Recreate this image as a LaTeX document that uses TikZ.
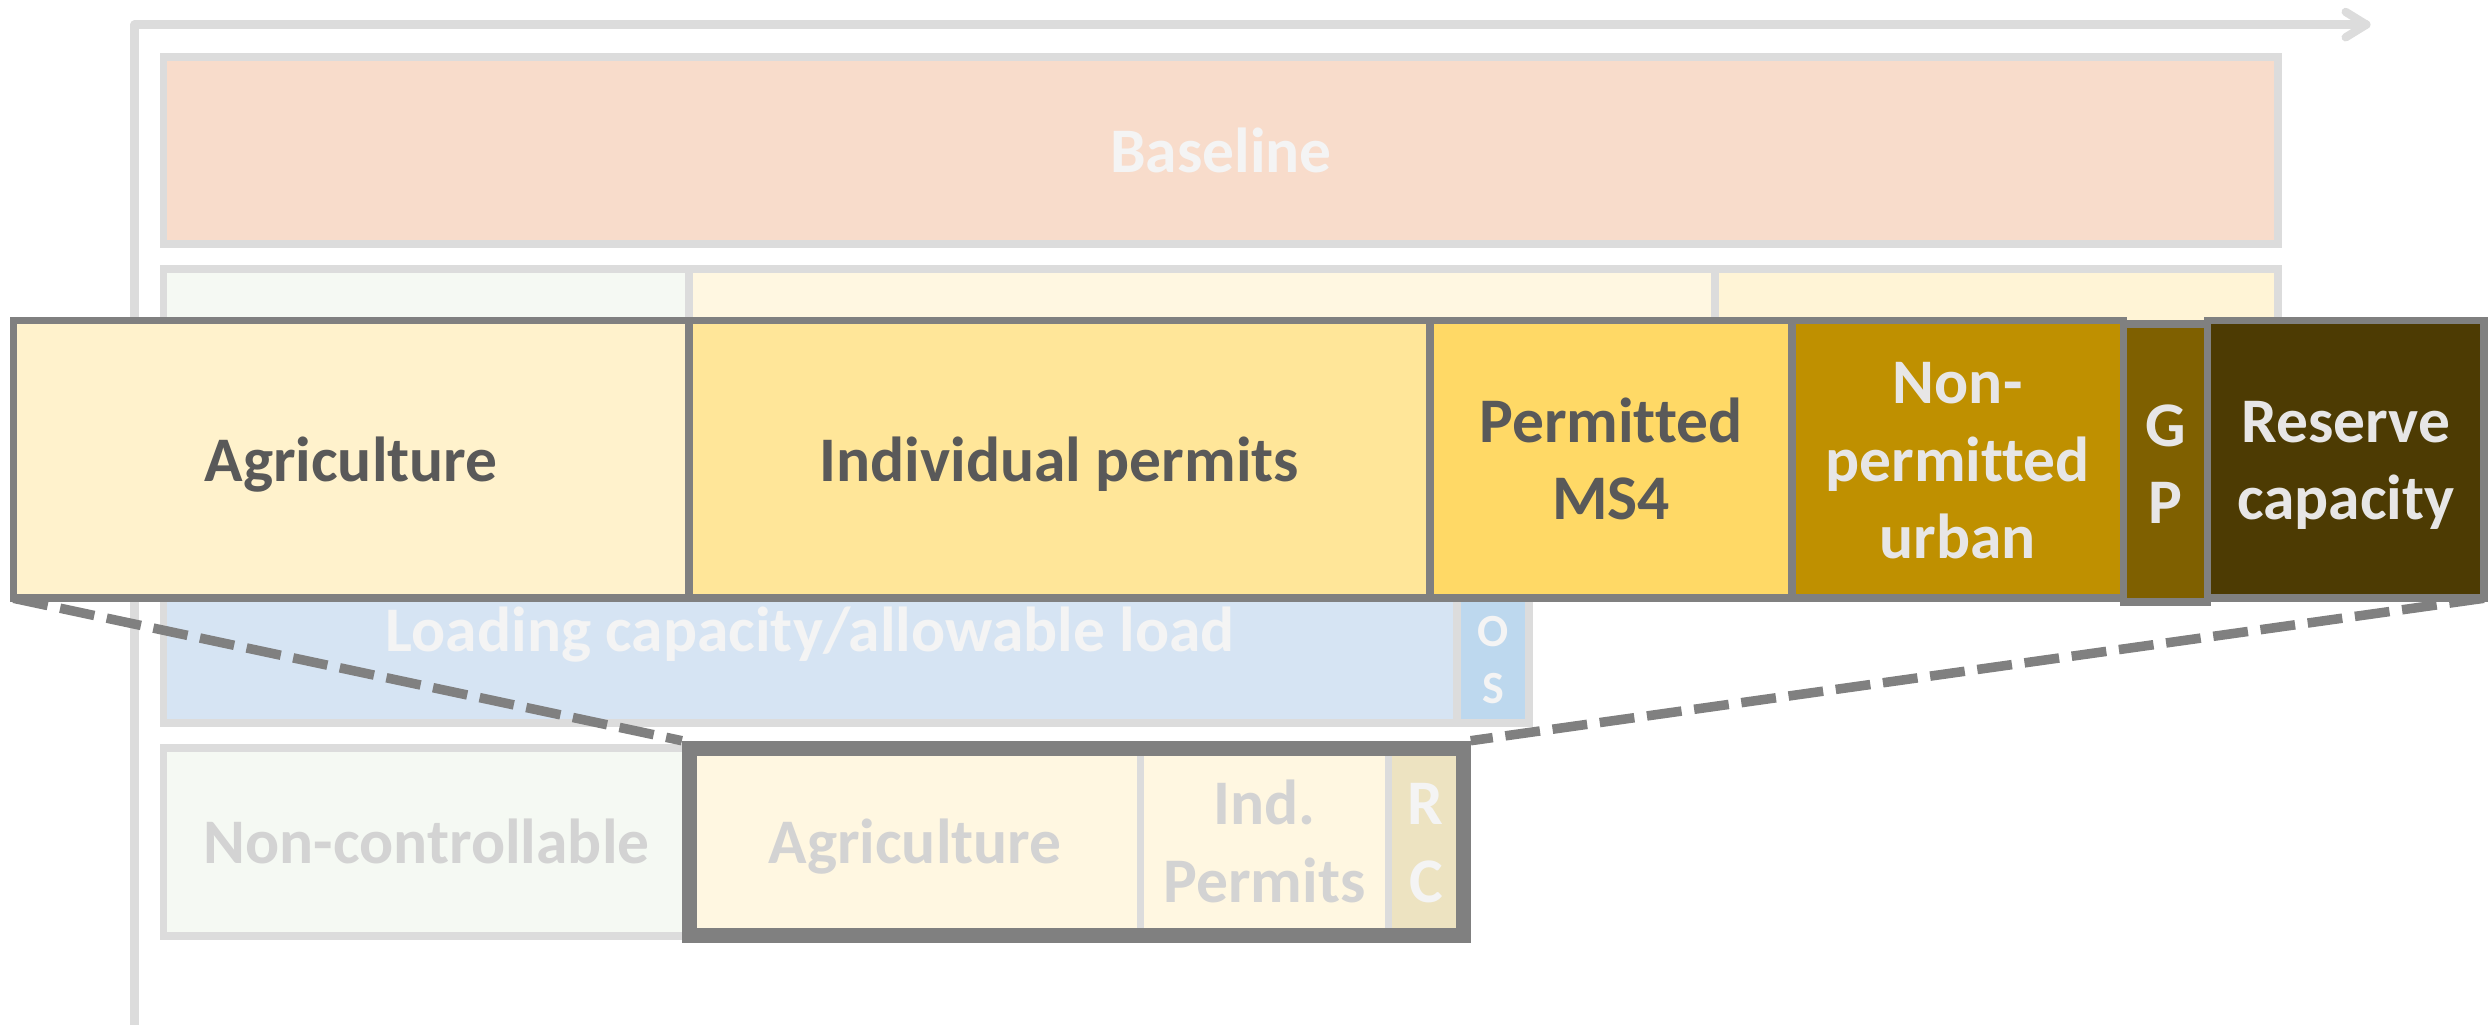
\documentclass[tikz,border=0pt]{standalone}
\usepackage{fontspec}
\setmainfont{Carlito}[Ligatures=NoCommon]
\usetikzlibrary{calc}
\definecolor{lgray}{HTML}{DCDCDC}
\definecolor{dgray}{HTML}{808080}
\definecolor{txtdark}{HTML}{595959}
\definecolor{txtlight}{HTML}{E7E6E6}
\definecolor{txtwhite}{HTML}{F4F4F4}
\definecolor{txtfaint}{HTML}{D3D3D3}
\definecolor{peach}{HTML}{F8DCCB}
\definecolor{mint}{HTML}{F5F9F3}
\definecolor{cream}{HTML}{FFF7E1}
\definecolor{creamb}{HTML}{FFF4D6}
\definecolor{lblue}{HTML}{D6E4F3}
\definecolor{osblue}{HTML}{BDD8EE}
\definecolor{tanfill}{HTML}{EDE3C1}
\definecolor{ya}{HTML}{FFF2CC}
\definecolor{yb}{HTML}{FFE699}
\definecolor{yc}{HTML}{FFD966}
\definecolor{yd}{HTML}{BF9000}
\definecolor{ye}{HTML}{7F6000}
\definecolor{yf}{HTML}{4D3B03}
\newcommand\pl{\rule[-0.269em]{0pt}{1.221em}}
\newcommand\segbox[7]{\node[#1,minimum width={(#5)-(#3)},minimum height={(#6)-(#4)}] (#2) at ({((#3)+(#5))/2},{((#4)+(#6))/2}) {#7};}
\tikzset{
  seg/.style={rectangle, inner sep=0pt, outer sep=0pt, align=center, line width=4.8pt},
  lbox/.style={seg, draw=lgray},
  dbox/.style={seg, draw=dgray},
  axisline/.style={draw=lgray, line width=5.2pt, line cap=round, line join=round},
  zoomline/.style={draw=dgray, line width=6pt, dash pattern=on 22pt off 8pt},
  thickbox/.style={rectangle, inner sep=0pt, draw=dgray, line width=9.5pt}
}
\begin{document}
\begin{tikzpicture}[x=1pt, y=-1pt, font=\bfseries\fontsize{40}{48.84}\selectfont]
\useasboundingbox (0,0) rectangle (1568,645);
% axes
\coordinate (origin) at (84.7,15.5);
\coordinate (xend) at (1489.5,15.5);
\coordinate (ybot) at (84.7,660);
\draw[axisline] (ybot) -- (origin) -- (xend);
\draw[axisline] ($(xend)+(-13,-8)$) -- (xend) -- ($(xend)+(-13,8)$);
% baseline
\segbox{lbox, fill=peach, text=txtwhite}{baseline}{103}{36}{1434}{153.4}{\pl Baseline}
% row 2 (mostly hidden)
\segbox{lbox, fill=mint}{rtwoa}{103}{169.3}{433.5}{300}{}
\segbox{lbox, fill=cream}{rtwob}{433.5}{169.3}{1079.6}{300}{}
\segbox{lbox, fill=creamb}{rtwoc}{1079.6}{169.3}{1434}{300}{}
% loading capacity
\segbox{lbox, fill=lblue, text=txtwhite}{loadcap}{103}{337.6}{917}{455}{\pl Loading capacity/allowable load}
\segbox{lbox, fill=osblue}{osbox}{917}{337.6}{962.6}{455}{}
\node[text=txtwhite, align=center, font=\bfseries\fontsize{29}{35.4}\selectfont, inner sep=0pt] (ostext) at (939.8,415) {\pl O\\\pl S};
% bottom row
\segbox{lbox, fill=mint, text=txtfaint}{noncont}{103}{471}{434}{589}{\pl Non-controllable}
\segbox{lbox, fill=cream, text=txtfaint}{sagri}{434}{471}{718}{589}{\pl Agriculture}
\segbox{lbox, fill=cream, text=txtfaint}{sind}{718}{471}{874}{589}{\pl Ind.\\\pl Permits}
\segbox{lbox, fill=tanfill, text=txtwhite}{src}{874}{471}{921}{589}{\pl R\\\pl C}
\segbox{thickbox}{zoombox}{434}{471}{921}{589}{}
% big bar
\segbox{dbox, fill=ya, text=txtdark}{bagri}{8.5}{201.7}{433.5}{376.6}{\pl Agriculture}
\segbox{dbox, fill=yb, text=txtdark}{bind}{433.5}{201.7}{900}{376.6}{\pl Individual permits}
\segbox{dbox, fill=yc, text=txtdark}{bms}{900}{201.7}{1128}{376.6}{\pl Permitted\\\pl MS4}
\segbox{dbox, fill=yd, text=txtlight}{bnon}{1128}{201.7}{1336.6}{376.6}{\pl Non-\\\pl permitted\\\pl urban}
\segbox{dbox, fill=ye, text=txtlight}{bgp}{1336.6}{204}{1389.6}{379}{\pl G\\\pl P}
\segbox{dbox, fill=yf, text=txtlight}{bres}{1389.6}{201.7}{1563.5}{376.6}{\pl Reserve\\\pl capacity}
% zoom lines
\draw[zoomline] (bagri.south west) -- (zoombox.north west);
\draw[zoomline] (bres.south east) -- (zoombox.north east);
\end{tikzpicture}
\end{document}
